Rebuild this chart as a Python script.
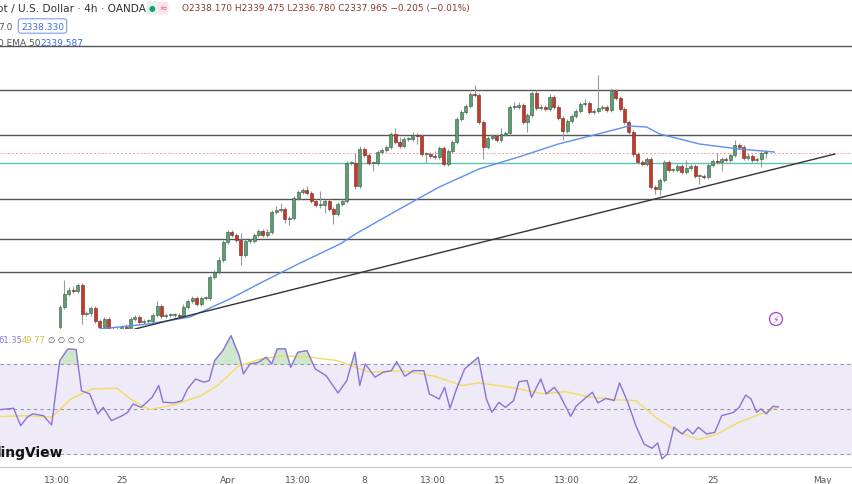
import numpy as np, pandas as pd, seaborn as sns
import matplotlib
matplotlib.use("Agg")
import matplotlib.pyplot as plt

closes = [2184,2197,2201,2200,2206,2177,2178,2183,2170,2164,
 2172,2162,2160,2162,2164,2162,2172,2174,2169,2170,
 2170,2176,2185,2175,2176,2176,2176,2175,2184,2190,
 2193,2187,2193,2193,2214,2219,2231,2249,2259,2256,
 2251,2236,2250,2250,2256,2260,2256,2259,2279,2281,
 2282,2272,2273,2293,2299,2301,2298,2290,2286,2286,
 2290,2282,2277,2287,2290,2328,2328,2305,2342,2336,
 2328,2328,2339,2341,2344,2357,2349,2345,2352,2352,
 2356,2355,2337,2337,2335,2334,2343,2327,2340,2349,
 2372,2379,2385,2397,2396,2369,2344,2353,2355,2351,
 2357,2358,2384,2384,2386,2369,2376,2398,2383,2384,
 2382,2394,2384,2373,2360,2370,2375,2380,2387,2388,
 2379,2380,2383,2384,2381,2400,2393,2382,2369,2359,
 2337,2329,2327,2332,2304,2302,2311,2329,2321,2321,
 2325,2319,2323,2325,2315,2315,2314,2326,2330,2329,
 2332,2331,2336,2346,2344,2333,2335,2331,2332,2338,
 2338]
first_open = 2164
upper_wick = [2,14,3,4,2,2,2,2,2,2, 2,2,2,2,2,3,2,2,2,2, 2,2,5,2,2,2,2,2,3,2,
 2,2,2,2,2,2,3,2,2,2, 2,7,2,2,2,2,2,3,2,4, 6,2,2,2,2,2,4,2,2,14,
 2,2,2,2,2,2,2,10,3,2, 2,2,2,2,2,2,6,5,2,2, 3,2,2,2,2,5,2,2,2,2,
 2,2,2,2,9,2,2,2,2,2, 6,2,2,5,3,2,2,2,3,3, 2,3,2,2,2,2,2,2,2,4,
 2,2,33,2,2,3,2,2,2,2, 2,2,2,2,2,2,2,2,2,2, 2,2,8,2,2,2,2,2,2,8,
 2,2,2,5,2,2,3,2,2,2, 3]
lower_wick = [2,2,2,2,2,10,2,3,2,2, 2,2,2,2,2,2,2,2,2,2, 2,2,2,2,2,2,2,2,2,2,
 2,2,2,2,2,2,2,2,2,2, 2,10,2,2,2,2,2,2,2,2, 2,4,6,2,2,2,2,2,2,3,
 8,2,10,2,2,2,2,3,2,2, 2,8,2,2,2,2,2,2,2,2, 2,8,2,9,2,2,2,2,2,2,
 2,2,2,2,2,2,12,2,2,2, 2,2,2,2,2,2,10,2,2,2, 2,2,2,2,9,2,2,2,2,2,
 2,2,2,2,2,2,2,2,2,2, 3,2,2,2,2,5,6,2,2,2, 2,2,2,2,2,8,2,2,2,2,
 9,2,2,2,2,2,2,2,2,8, 5]

ema_idx = [9,20,29.5,38.5,45,54,63.5,67,77,86,95,104,113,122,129,133,136,145,154,162]
ema_val = [2162,2167,2174,2192,2207,2227,2247,2257,2282,2304,2322,2334,2347,2357,2365,2364,2357,2347,2342,2339]

# RSI readings (reading positions along the time axis, values)
rsi_pos = [0,25,38,50,60,80,95,110,125,140,150,165,180,190,205,225,235,245,260,280,292,300,320,335,345,360,375,385,395,410,425,440,448,460,475,490,500,510,525,535,548,565,580,600,622,638,653,662,672,690,705,720,730,745,760,780,790,808,818,828,840,855,880,895,905,918,930,945,955,970,978,995,1005,1020,1030,1050,1060,1075,1090,1100,1115,1130,1140,1155,1170,1185,1200,1210,1218,1228,1240,1255,1265,1275,1285,1300,1315,1328,1340,1350,1360,1372,1382,1392,1400,1410,1422,1432]
rsi_v = [49.7,50.3,42.6,46.3,47.8,47,42.9,71.5,76.7,76.4,58.1,56.7,47.8,50.7,44.8,47,48.5,52.2,50.7,55.2,60.4,53,52.7,53.7,58.9,63.3,61.9,62.6,71.5,75.9,82.6,73.7,65.6,70,70.7,73,70,76.7,76.7,68.5,75.2,75.9,67.8,64.8,57.1,62.6,75.2,60.4,70,64.1,66.3,67,71,64.5,67,67,56.7,54.4,59.6,50.3,58.9,67.8,73,54.4,48.5,52.9,50.7,53.7,62.1,62.6,55.2,63.3,56.7,59.6,56.2,46.7,51.2,54.4,57.4,52.7,54.7,53.7,61.6,53,42.6,34.4,32.5,34.9,27.8,30,41.9,38.9,41.1,38.9,41.9,38.9,39.6,47,47.8,48.5,50.7,56.2,54.4,48.5,50,47.8,51.2,50.9]
ma_pos = [0,50,95,130,170,215,240,275,320,370,400,440,480,520,570,620,680,740,800,850,880,940,1000,1040,1080,1130,1170,1210,1250,1285,1320,1360,1400,1430]
ma_v = [46.7,47,46.3,54.4,58.9,59.2,54.4,49.7,51.8,55.9,60.4,69.3,72.2,73.7,73,71.5,66.3,67,64.5,60.4,61.6,59.6,56.7,57.7,55.6,54.1,53.7,45.6,39.6,36.4,38.9,44.1,47.8,50.7]

levels = [2445,2401,2356,2292,2252,2219]
support_level = 2328
last_price = 2338
trend_idx = [17,175.7]
trend_val = [2162,2337]

tick_idx = [-0.7,14,38,54,69,84.6,99.8,115,130,148,172.8]
tick_labels = ["13:00","25","Apr","13:00","8","13:00","15","13:00","22","25","May"]

def to_candle(p):
    return (np.asarray(p, float)/1.84 - 60)/4.41

n = len(closes)
opens = [first_open] + closes[:-1]
highs = [max(o,c)+u for o,c,u in zip(opens,closes,upper_wick)]
lows = [min(o,c)-l for o,c,l in zip(opens,closes,lower_wick)]

fig = plt.figure(figsize=(8.52,4.85), dpi=100)
fig.patch.set_facecolor("white")
x0 = -60/4.41; x1 = (852-60)/4.41
ax = fig.add_axes([0, 1-330/485, 1, 330/485])
ax.set_xlim(x0, x1); ax.set_ylim(2162, 2492)
for lv in levels:
    ax.axhline(lv, color="#555555", lw=1.0)
ax.axhline(support_level, color="#5cc2b2", lw=1.0)
ax.axhline(last_price, color="#f2a0a0", lw=0.7, ls=(0,(2,2)))
green, red = "#5e9e72", "#c23b2b"
for i,(o,h,l,c) in enumerate(zip(opens,highs,lows,closes)):
    up = c >= o
    ax.vlines(i, l, h, color="#999999", lw=0.8, zorder=2)
    ax.bar(i, max(abs(c-o),0.8), bottom=min(o,c), width=0.68, color=green if up else red,
           edgecolor="#2f5a3c" if up else "#7a1f17", lw=0.4, zorder=3)
sns.lineplot(x=ema_idx, y=ema_val, ax=ax, color="#5b8ff0", lw=1.0, zorder=4)
sns.lineplot(x=trend_idx, y=trend_val, ax=ax, color="#333333", lw=1.0, zorder=4)
ax.axis("off")

fig.text(-0.003, 1-9/485, "ot / U.S. Dollar · 4h · OANDA", fontsize=7.6, color="#333333", va="center")
fig.text(152/852, 1-9/485, "●", fontsize=5.5, color="#1a9a7a", va="center", ha="center",
         bbox=dict(boxstyle="round,pad=0.3", fc="#e3f4ee", ec="none"))
fig.text(163/852, 1-9/485, "≈", fontsize=6.5, color="#e05a7a", va="center", ha="center",
         bbox=dict(boxstyle="round,pad=0.2", fc="#fbe5ea", ec="none"))
fig.text(182/852, 1-9/485, "O2338.170 H2339.475 L2336.780 C2337.965 −0.205 (−0.01%)",
         fontsize=6.5, color="#8a3a2a", va="center")
fig.text(-0.002, 1-27/485, "7.0", fontsize=6.5, color="#555555", va="center")
fig.text(21/852, 1-27/485, "2338.330", fontsize=6.5, color="#3b6fe0", va="center",
         bbox=dict(boxstyle="round,pad=0.3", fc="white", ec="#7b9cf0", lw=0.8))
fig.text(-0.002, 1-44/485, "0 EMA 50", fontsize=6.5, color="#555555", va="center")
fig.text(40/852, 1-44/485, "2339.587", fontsize=6.5, color="#3b6fe0", va="center")

ax2 = fig.add_axes([0, 1-468/485, 1, 135/485])
ax2.set_xlim(x0, x1); ax2.set_ylim(24.2, 84.2)
ax2.axhspan(30, 70, color="#efeaf8", zorder=0)
for lv in (70, 50, 30):
    ax2.axhline(lv, color="#9a96a8", lw=0.8, ls=(0,(3,3)))
rt = to_candle(rsi_pos); rv = np.array(rsi_v)
ax2.fill_between(rt, 70, rv, where=rv>70, color="#cfe6cf", interpolate=True, zorder=1)
sns.lineplot(x=to_candle(ma_pos), y=ma_v, ax=ax2, color="#f2dc5a", lw=1.0, zorder=2)
sns.lineplot(x=rt, y=rv, ax=ax2, color="#8b72d6", lw=1.0, zorder=3)
ax2.set_xticks(tick_idx); ax2.set_xticklabels(tick_labels)
ax2.tick_params(axis="x", length=0, labelsize=6.5, labelcolor="#555555", pad=6)
ax2.set_yticks([])
for sp in ("top","left","right"):
    ax2.spines[sp].set_visible(False)
ax2.spines["bottom"].set_color("#c8c8c8")
ax2.set_facecolor("none")
fig.text(-0.002, 1-341/485, "61.35", fontsize=6, color="#8b72d6", va="center")
fig.text(22/852, 1-341/485, "49.77", fontsize=6, color="#d8c040", va="center")
fig.text(48/852, 1-341/485, "∅ ∅ ∅ ∅", fontsize=6, color="#555555", va="center")
fig.text(-0.004, 1-453/485, "lingView", fontsize=10, color="#111111", weight="bold", va="center")
fig.text(776/852, 1-320/485, "⚡", fontsize=7, color="#b04fd0", ha="center", va="center",
         bbox=dict(boxstyle="circle,pad=0.15", fc="white", ec="#b04fd0", lw=1))
fig.savefig("out.png", dpi=100)
